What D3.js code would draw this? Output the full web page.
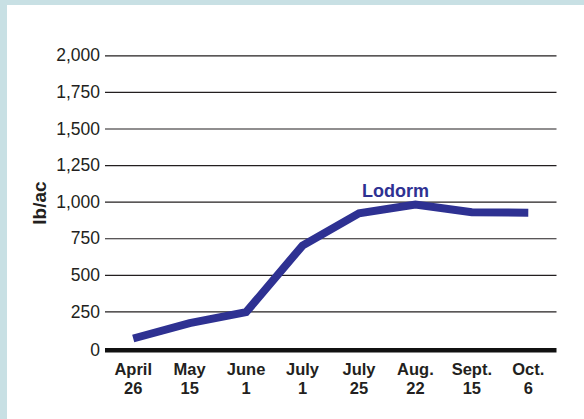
<!DOCTYPE html>
<html>
<head>
<meta charset="utf-8">
<script src="https://cdn.jsdelivr.net/npm/d3@7"></script>
<style>
  html, body { margin: 0; padding: 0; background: #c8e0e4; }
  svg { display: block; }
</style>
</head>
<body>
<div id="chart"></div>
<script>
const dates = [["April", "26"], ["May", "15"], ["June", "1"], ["July", "1"],
               ["July", "25"], ["Aug.", "22"], ["Sept.", "15"], ["Oct.", "6"]];
const lodorm = [65, 170, 245, 700, 920, 980, 928, 925];
const yTicks = [0, 250, 500, 750, 1000, 1250, 1500, 1750, 2000];
const seriesName = "Lodorm";
const yLabel = "lb/ac";

const width = 584, height = 419;
const font = "'Liberation Sans', Arial, Helvetica, sans-serif";
const navy = "#2e3192";

const svg = d3.select("#chart").append("svg")
  .attr("width", width)
  .attr("height", height);

// light blue frame, white panel
svg.append("rect").attr("width", width).attr("height", height).attr("fill", "#c8e0e4");
svg.append("rect").attr("x", 7).attr("y", 5).attr("width", width - 7).attr("height", height - 5).attr("fill", "#fff");

const keys = dates.map(d => d.join(" "));

const x = d3.scalePoint()
  .domain(keys)
  .range([105, 556.5])
  .padding(0.5);

const y = d3.scaleLinear()
  .domain([0, 2000])
  .range([348, 55.3]);

// gridlines + tick labels
svg.append("g")
  .attr("transform", "translate(105,0)")
  .call(d3.axisLeft(y)
    .tickValues(yTicks.filter(v => v > 0))
    .tickSize(-451.5)
    .tickPadding(5)
    .tickFormat(d3.format(",")))
  .call(g => g.select(".domain").remove())
  .call(g => g.selectAll(".tick line").attr("stroke", "#231f20").attr("stroke-width", 1.2))
  .call(g => g.selectAll(".tick text")
    .attr("fill", "#231f20")
    .style("font-size", "17.5px")
    .style("font-family", font));

// zero label + thick baseline
svg.append("text")
  .attr("x", 100)
  .attr("y", y(0) + 2)
  .attr("dy", "0.35em")
  .attr("text-anchor", "end")
  .attr("fill", "#231f20")
  .style("font-size", "17.5px")
  .style("font-family", font)
  .text("0");

svg.append("line")
  .attr("x1", 105).attr("x2", 556.5)
  .attr("y1", y(0) + 2.3).attr("y2", y(0) + 2.3)
  .attr("stroke", "#111")
  .attr("stroke-width", 4.5);

// x labels (two lines)
const xl = svg.append("g").selectAll("text")
  .data(dates)
  .join("text")
  .attr("x", d => x(d.join(" ")))
  .attr("text-anchor", "middle")
  .attr("fill", "#231f20")
  .style("font-size", "16.5px")
  .style("font-weight", "bold")
  .style("font-family", font);

xl.append("tspan").attr("x", d => x(d.join(" "))).attr("y", 375).text(d => d[0]);
xl.append("tspan").attr("x", d => x(d.join(" "))).attr("y", 393.5).text(d => d[1]);

// y axis title
svg.append("text")
  .attr("transform", "translate(46,203) rotate(-90)")
  .attr("text-anchor", "middle")
  .attr("fill", "#231f20")
  .style("font-size", "19px")
  .style("font-weight", "bold")
  .style("font-family", font)
  .text(yLabel);

// series line
const line = d3.line()
  .x((d, i) => x(keys[i]))
  .y(d => y(d));

svg.append("path")
  .datum(lodorm)
  .attr("d", line)
  .attr("fill", "none")
  .attr("stroke", navy)
  .attr("stroke-width", 8)
  .attr("stroke-linejoin", "miter");

svg.append("text")
  .attr("x", 395.5)
  .attr("y", 196.5)
  .attr("text-anchor", "middle")
  .attr("fill", navy)
  .style("font-size", "18px")
  .style("font-weight", "bold")
  .style("font-family", font)
  .text(seriesName);
</script>
</body>
</html>
